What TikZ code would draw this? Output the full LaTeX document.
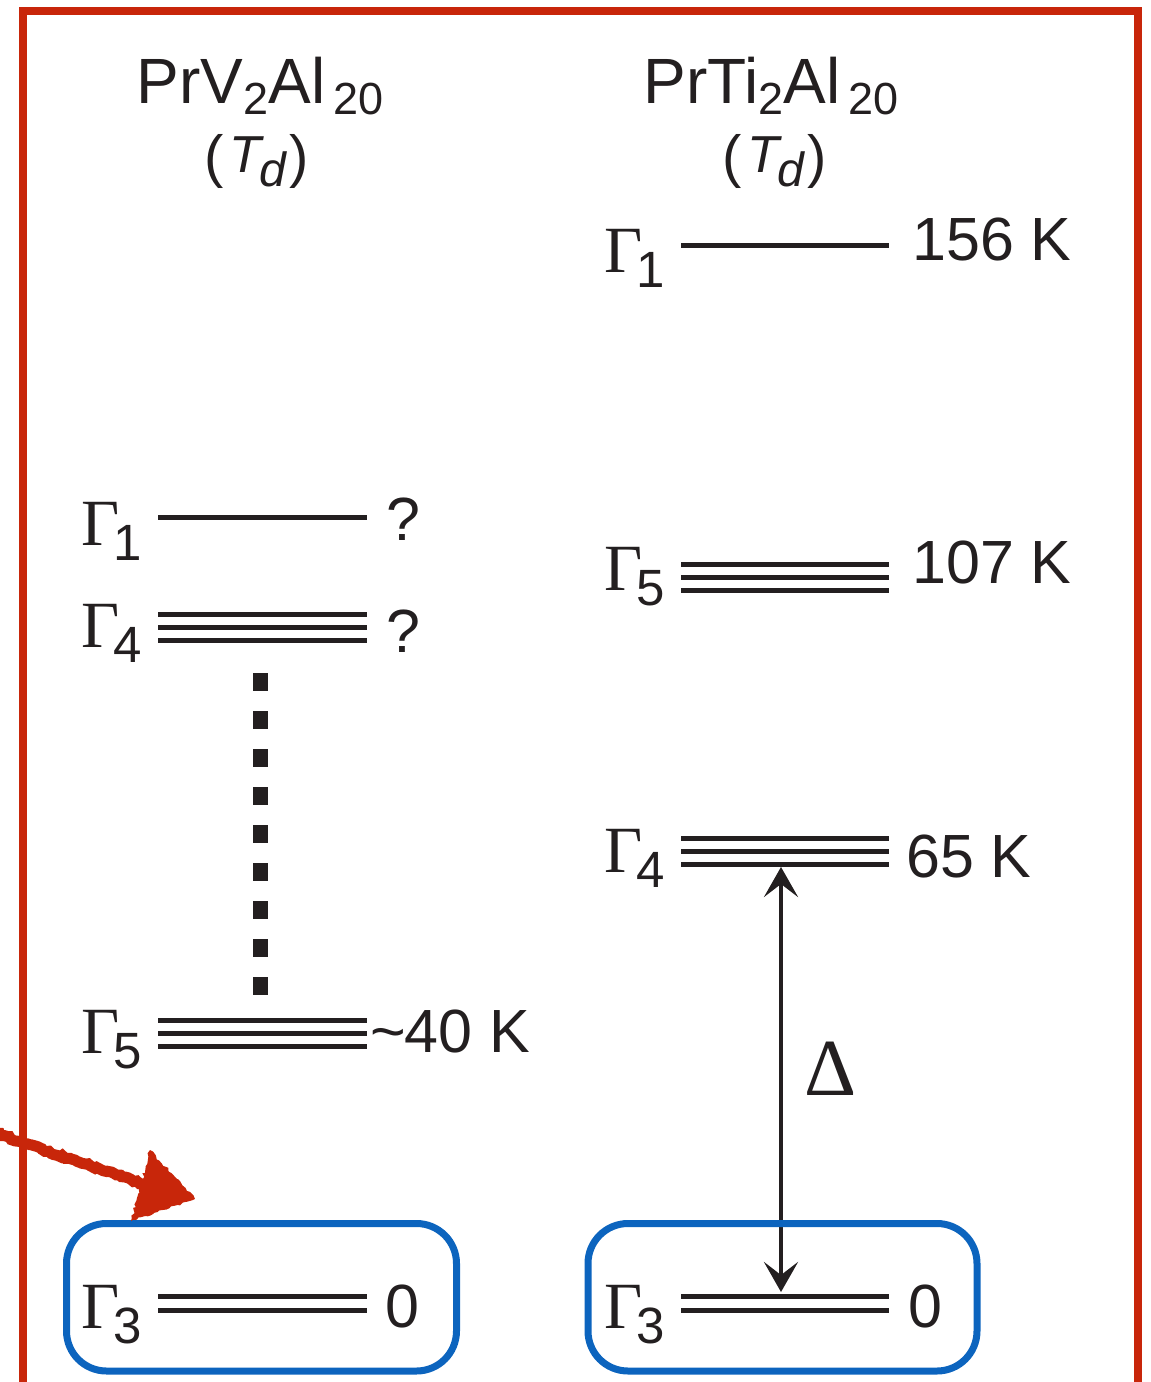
\documentclass[tikz,border=0pt]{standalone}
\usepackage{fontspec}
\setmainfont{Liberation Sans}
\newfontfamily\serifGr{Liberation Serif}
\usetikzlibrary{arrows.meta,decorations.pathmorphing}
\definecolor{ink}{RGB}{35,31,32}
\definecolor{framered}{RGB}{200,38,10}
\definecolor{boxblue}{RGB}{12,100,190}
\newcommand\Glab[1]{{\fontsize{66}{66}\selectfont\serifGr Γ}\kern-6pt\raisebox{-15pt}{\fontsize{51}{51}\selectfont #1}}
\newcommand\numf{\fontsize{61}{61}\selectfont}
\newcommand\titf{\fontsize{64}{64}\selectfont}
\newcommand\tsub[1]{\raisebox{-11pt}{\fontsize{45}{45}\selectfont #1}}
\newcommand\TdLab{{\fontsize{58}{58}\selectfont(\kern5pt\raisebox{4pt}{\fontsize{52}{52}\selectfont\itshape T}\kern-2pt\raisebox{-10pt}{\fontsize{48}{48}\selectfont\itshape d}\kern4pt)}}
\begin{document}
\begin{tikzpicture}[x=1pt,y=-1pt,
  lvl/.style={draw=ink, line width=5pt},
  lbl/.style={inner sep=0pt, text=ink, anchor=base west},
  ttl/.style={inner sep=0pt, text=ink, anchor=base},
  dblarrow/.style={draw=ink, line width=4.5pt,
    arrows={Stealth[length=30pt,width=34pt,inset=13pt]-Stealth[length=30pt,width=34pt,inset=13pt]}}]
\useasboundingbox (0,0) rectangle (1151,1382);
\clip (0,0) rectangle (1151,1382);
% frame
\draw[framered, line width=8pt] (23,1400) -- (23,11) -- (1138,11) -- (1138,1400);
% titles
\node[ttl] (t1) at (260,103) {\titf PrV\tsub{2}Al\kern8pt\tsub{20}};
\node[ttl] (s1) at (257,176) {\TdLab};
\node[ttl] (t2) at (771,103) {\titf PrTi\tsub{2}Al\kern8pt\tsub{20}};
\node[ttl] (s2) at (775,176) {\TdLab};
% ---------- left column ----------
\coordinate (a1a) at (158,517); \coordinate (a1b) at (367,517);
\coordinate (a4a) at (158,627); \coordinate (a4b) at (367,627);
\coordinate (a5a) at (158,1033); \coordinate (a5b) at (367,1033);
\coordinate (a3a) at (158,1303.5); \coordinate (a3b) at (367,1303.5);
\draw[lvl] (a1a) -- (a1b);
\foreach \s in {-13,0,13} \draw[lvl] ([yshift=\s pt]a4a) -- ([yshift=\s pt]a4b);
\foreach \s in {-13,0,13} \draw[lvl] ([yshift=\s pt]a5a) -- ([yshift=\s pt]a5b);
\foreach \s in {-6.75,6.75} \draw[lvl] ([yshift=\s pt]a3a) -- ([yshift=\s pt]a3b);
\node[lbl] (ga1) at (81,545) {\Glab{1}};
\node[lbl] (ga4) at (81,647) {\Glab{4}};
\node[lbl] (ga5) at (81,1053) {\Glab{5}};
\node[lbl] (ga3) at (81,1328) {\Glab{3}};
\node[lbl] (ea1) at (386,540) {\numf ?};
\node[lbl] (ea4) at (386,652) {\numf ?};
\node[lbl] (ea5) at (370,1052) {\numf \char"007E\kern-1pt40 K};
\node[lbl] (ea3) at (385,1327) {\numf 0};
% dotted connector
\coordinate (dTop) at (260,673); \coordinate (dBot) at (260,995);
\draw[ink, line width=15pt, dash pattern=on 18pt off 20pt] (dTop) -- (dBot);
% ---------- right column ----------
\coordinate (b1a) at (681,245); \coordinate (b1b) at (889,245);
\coordinate (b5a) at (681,577); \coordinate (b5b) at (889,577);
\coordinate (b4a) at (681,851); \coordinate (b4b) at (889,851);
\coordinate (b3a) at (681,1303.5); \coordinate (b3b) at (889,1303.5);
\draw[lvl] (b1a) -- (b1b);
\foreach \s in {-13,0,13} \draw[lvl] ([yshift=\s pt]b5a) -- ([yshift=\s pt]b5b);
\foreach \s in {-13,0,13} \draw[lvl] ([yshift=\s pt]b4a) -- ([yshift=\s pt]b4b);
\foreach \s in {-6.75,6.75} \draw[lvl] ([yshift=\s pt]b3a) -- ([yshift=\s pt]b3b);
\node[lbl] (gb1) at (604,272) {\Glab{1}};
\node[lbl] (gb5) at (604,590) {\Glab{5}};
\node[lbl] (gb4) at (604,872) {\Glab{4}};
\node[lbl] (gb3) at (604,1328) {\Glab{3}};
\node[lbl] (eb1) at (912,260) {\numf 156 K};
\node[lbl] (eb5) at (912,583) {\numf 107 K};
\node[lbl] (eb4) at (906,877) {\numf 65 K};
\node[lbl] (eb3) at (908,1327) {\numf 0};
% Delta arrow
\coordinate (dA) at (781,867); \coordinate (dB) at (781,1292);
\draw[dblarrow] (dA) -- (dB);
\node[lbl] (delta) at (804,1095) {\fontsize{81}{81}\selectfont\serifGr Δ};
% blue boxes
\draw[boxblue, line width=7pt, rounded corners=40pt] (66.5,1223.5) rectangle (456.5,1371);
\draw[boxblue, line width=7pt, rounded corners=40pt] (588,1223.5) rectangle (977,1371);
% red hand-drawn arrow
\coordinate (rS) at (-5,1133); \coordinate (rE) at (160,1190);
\draw[framered, line width=11pt, decorate, decoration={random steps, segment length=3pt, amplitude=1.3pt}] (rS) -- (rE);
\fill[framered, decorate, decoration={random steps, segment length=3pt, amplitude=1.5pt}] (150,1150) -- (195,1199) -- (131,1221) -- cycle;
\end{tikzpicture}
\end{document}
